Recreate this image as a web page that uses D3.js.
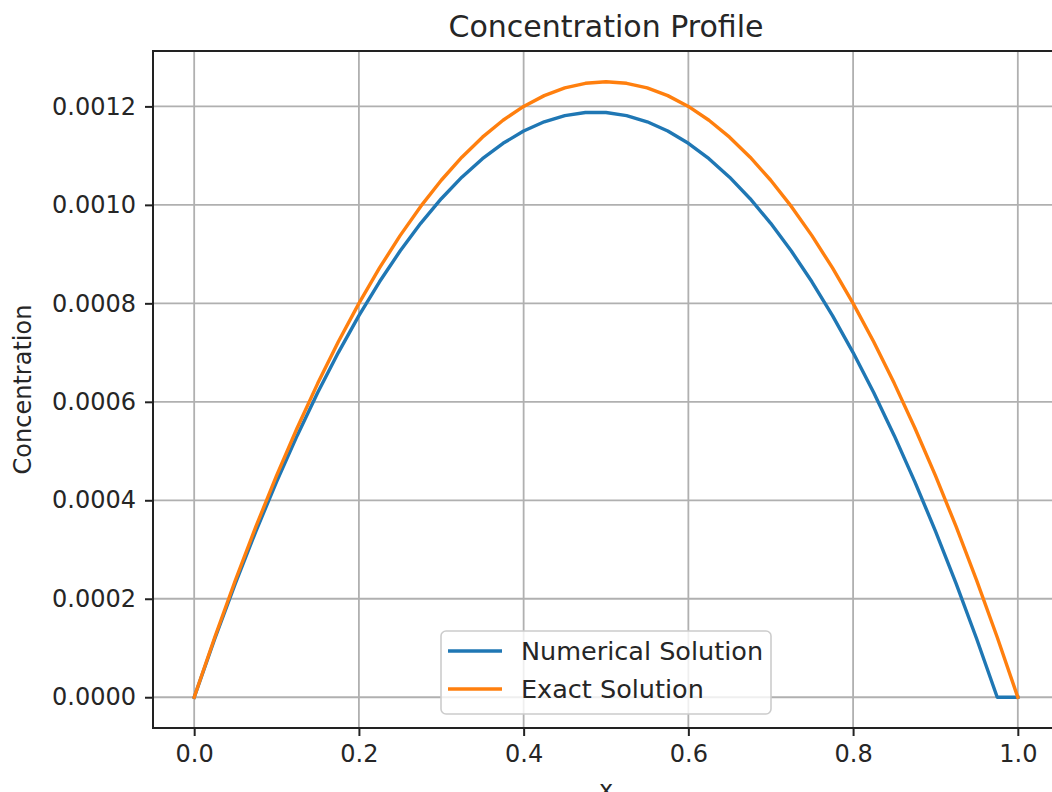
<!DOCTYPE html>
<html>
<head>
<meta charset="utf-8">
<script src="https://cdn.jsdelivr.net/npm/d3@7"></script>
<style>
  html, body { margin: 0; padding: 0; background: #fff; }
  svg { display: block; }
  text { font-family: "DejaVu Sans", sans-serif; fill: #262626; }
</style>
</head>
<body>
<script>
// ---- data ----
const xValues = [0, 0.025, 0.05, 0.075, 0.1, 0.125, 0.15, 0.175, 0.2, 0.225, 0.25, 0.275, 0.3, 0.325, 0.35, 0.375, 0.4, 0.425, 0.45, 0.475, 0.5,
  0.525, 0.55, 0.575, 0.6, 0.625, 0.65, 0.675, 0.7, 0.725, 0.75, 0.775, 0.8, 0.825, 0.85, 0.875, 0.9, 0.925, 0.95, 0.975, 1.0];
const numericalValues = [0, 0.00011875, 0.00023125, 0.0003375, 0.0004375, 0.00053125, 0.00061875, 0.0007, 0.000775, 0.00084375, 0.00090625,
  0.0009625, 0.0010125, 0.00105625, 0.00109375, 0.001125, 0.00115, 0.00116875, 0.00118125, 0.0011875, 0.0011875,
  0.00118125, 0.00116875, 0.00115, 0.001125, 0.00109375, 0.00105625, 0.0010125, 0.0009625, 0.00090625, 0.00084375,
  0.000775, 0.0007, 0.00061875, 0.00053125, 0.0004375, 0.0003375, 0.00023125, 0.00011875, 0, 0];
const exactValues = [0, 0.000121875, 0.0002375, 0.000346875, 0.00045, 0.000546875, 0.0006375, 0.000721875, 0.0008, 0.000871875, 0.0009375,
  0.000996875, 0.00105, 0.001096875, 0.0011375, 0.001171875, 0.0012, 0.001221875, 0.0012375, 0.001246875, 0.00125,
  0.001246875, 0.0012375, 0.001221875, 0.0012, 0.001171875, 0.0011375, 0.001096875, 0.00105, 0.000996875, 0.0009375,
  0.000871875, 0.0008, 0.000721875, 0.0006375, 0.000546875, 0.00045, 0.000346875, 0.0002375, 0.000121875, 0];
const xTicks = [0.0, 0.2, 0.4, 0.6, 0.8, 1.0];
const yTicks = [0.0000, 0.0002, 0.0004, 0.0006, 0.0008, 0.0010, 0.0012];
const seriesNames = ["Numerical Solution", "Exact Solution"];
const seriesColors = ["#1f77b4", "#ff7f0e"];
const titleText = "Concentration Profile";
const xLabel = "x";
const yLabel = "Concentration";

// ---- layout ----
const W = 1052, H = 792;
const mLeft = 153, mRight = 1059, mTop = 51, mBottom = 728;

const svg = d3.select("body").append("svg").attr("width", W).attr("height", H);

const x = d3.scaleLinear().domain([-0.05, 1.05]).range([mLeft, mRight]);
const y = d3.scaleLinear().domain([-0.0000625, 0.0013125]).range([mBottom, mTop]);

// grid
const grid = svg.append("g");
grid.selectAll("line.gx").data(xTicks).enter().append("line")
  .attr("x1", d => x(d)).attr("x2", d => x(d)).attr("y1", mTop).attr("y2", mBottom)
  .attr("stroke", "#b0b0b0").attr("stroke-width", 1.8);
grid.selectAll("line.gy").data(yTicks).enter().append("line")
  .attr("y1", d => y(d)).attr("y2", d => y(d)).attr("x1", mLeft).attr("x2", mRight)
  .attr("stroke", "#b0b0b0").attr("stroke-width", 1.8);

// lines
const series = [numericalValues, exactValues];
const line = d3.line().x((d, i) => x(xValues[i])).y(d => y(d));
series.forEach((s, k) => {
  svg.append("path").datum(s).attr("d", line)
    .attr("fill", "none").attr("stroke", seriesColors[k]).attr("stroke-width", 3.4)
    .attr("stroke-linejoin", "round").attr("stroke-linecap", "square");
});

// axes
const xAxis = d3.axisBottom(x).tickValues(xTicks).tickFormat(d3.format(".1f")).tickSizeOuter(0).tickSize(8).tickPadding(8);
const yAxis = d3.axisLeft(y).tickValues(yTicks).tickFormat(d3.format(".4f")).tickSizeOuter(0).tickSize(8).tickPadding(9);
const gx = svg.append("g").attr("transform", `translate(0,${mBottom})`).call(xAxis);
const gy = svg.append("g").attr("transform", `translate(${mLeft},0)`).call(yAxis);
[gx, gy].forEach(g => {
  g.select(".domain").remove();
  g.selectAll(".tick line").attr("stroke", "#222").attr("stroke-width", 2);
  g.selectAll(".tick text").style("font-family", "'DejaVu Sans', sans-serif").style("font-size", "24px").attr("fill", "#262626");
});
gx.selectAll(".tick text").attr("dy", "0.75em");

// spines
svg.append("rect").attr("x", mLeft).attr("y", mTop).attr("width", mRight - mLeft).attr("height", mBottom - mTop)
  .attr("fill", "none").attr("stroke", "#222").attr("stroke-width", 2);

// title & labels
svg.append("text").attr("x", (mLeft + mRight) / 2).attr("y", 37).attr("text-anchor", "middle")
  .style("font-size", "30px").text(titleText);
svg.append("text").attr("x", (mLeft + mRight) / 2).attr("y", 798).attr("text-anchor", "middle")
  .style("font-size", "24px").text(xLabel);
svg.append("text").attr("transform", `translate(31,${(mTop + mBottom) / 2}) rotate(-90)`).attr("text-anchor", "middle")
  .style("font-size", "24px").text(yLabel);

// legend
const lg = svg.append("g");
lg.append("rect").attr("x", 441).attr("y", 631).attr("width", 330).attr("height", 83).attr("rx", 5)
  .attr("fill", "rgba(255,255,255,0.8)").attr("stroke", "#cccccc").attr("stroke-width", 1.6);
seriesNames.forEach((name, i) => {
  const yy = 651 + i * 38;
  lg.append("line").attr("x1", 448).attr("x2", 502).attr("y1", yy).attr("y2", yy)
    .attr("stroke", seriesColors[i]).attr("stroke-width", 3.4);
  lg.append("text").attr("x", 521).attr("y", yy).attr("dy", "0.35em").style("font-size", "25.5px").text(name);
});
</script>
</body>
</html>
